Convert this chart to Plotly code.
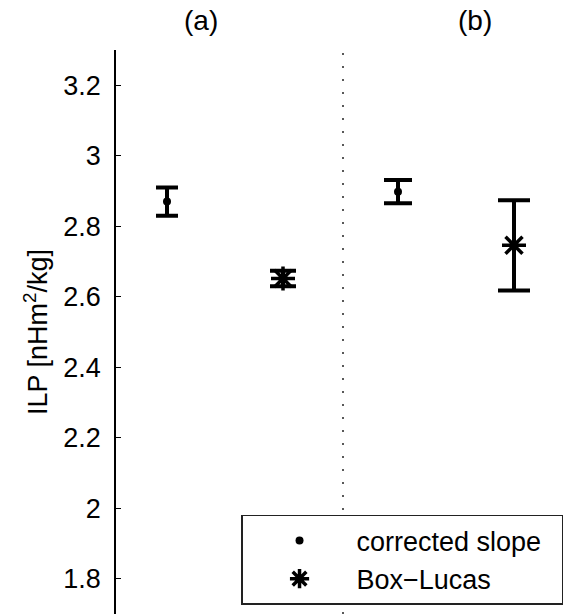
import plotly.graph_objects as go

# Data
groups = ["(a)", "(b)"]
x_corrected = [0.51, 2.82]
y_corrected = [2.870, 2.898]
err_corrected = [0.040, 0.033]
x_boxlucas = [1.67, 3.98]
y_boxlucas = [2.652, 2.746]
err_boxlucas = [0.022, 0.128]
x_group_titles = [0.85, 3.59]
x_separator = 2.27
y_ticks = [1.8, 2.0, 2.2, 2.4, 2.6, 2.8, 3.0, 3.2]
y_ticklabels = ["1.8", "2", "2.2", "2.4", "2.6", "2.8", "3", "3.2"]
series_names = ["corrected slope", "Box\u2212Lucas"]

FONT = "Liberation Sans, Arial, sans-serif"
cap_corr = [11, 14]
cap_bl = [13, 16]
PAD = "\u00a0\u00a0"

fig = go.Figure()
for i in range(2):
    fig.add_trace(go.Scatter(
        x=[x_corrected[i]], y=[y_corrected[i]], mode="markers",
        name=series_names[0] + PAD, legendgroup="c", showlegend=(i == 0),
        marker=dict(symbol="circle", size=8, color="black"),
        error_y=dict(type="data", array=[err_corrected[i]], visible=True,
                     color="black", thickness=4, width=cap_corr[i]),
    ))
for i in range(2):
    fig.add_trace(go.Scatter(
        x=[x_boxlucas[i]], y=[y_boxlucas[i]], mode="markers",
        name=series_names[1] + PAD, legendgroup="b", showlegend=(i == 0),
        marker=dict(symbol="asterisk-open", size=20, color="black",
                    line=dict(color="black", width=3.5)),
        error_y=dict(type="data", array=[err_boxlucas[i]], visible=True,
                     color="black", thickness=4, width=cap_bl[i]),
    ))

fig.add_shape(type="line", xref="x", yref="paper", x0=x_separator, x1=x_separator,
              y0=0, y1=0.995, line=dict(color="#222", width=1.5, dash="2px,11px"),
              layer="below")

for xt, t in zip(x_group_titles, groups):
    fig.add_annotation(x=xt, y=1.0, xref="x", yref="paper", yanchor="bottom", yshift=12,
                       text=t, showarrow=False,
                       font=dict(size=28, color="black", family=FONT))

fig.update_layout(
    width=568, height=614,
    margin=dict(l=116, r=0, t=50, b=0),
    paper_bgcolor="white", plot_bgcolor="white",
    font=dict(family=FONT, color="black", size=27),
    xaxis=dict(range=[0, 4.52], visible=False),
    yaxis=dict(range=[1.7, 3.3], tickvals=y_ticks, ticktext=y_ticklabels,
               showline=True, linecolor="black", linewidth=1.5,
               ticks="inside", ticklen=5, tickwidth=1.2, tickcolor="black",
               ticklabelstandoff=8,
               showgrid=False, zeroline=False,
               title=dict(text="ILP [nHm<sup>2</sup>/kg]", standoff=8,
                          font=dict(size=27))),
    legend=dict(x=0.989, y=0.016, xanchor="right", yanchor="bottom",
                bordercolor="#222", borderwidth=1.5, bgcolor="white",
                itemwidth=104, font=dict(size=27), tracegroupgap=0),
    showlegend=True,
)

fig.write_html("out.html")
